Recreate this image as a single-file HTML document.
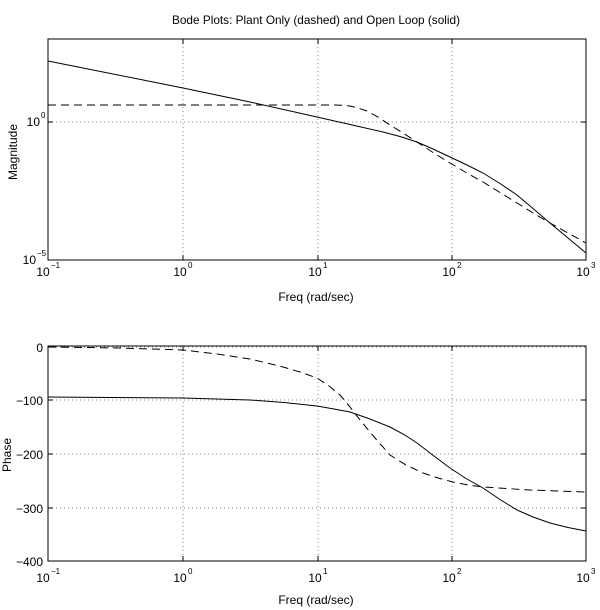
<!DOCTYPE html>
<html><head><meta charset="utf-8"><style>body{margin:0;background:#fff}svg{display:block}</style></head>
<body>
<svg width="600" height="610" xmlns="http://www.w3.org/2000/svg" font-family="Liberation Sans, sans-serif" font-size="12">
<rect width="600" height="610" fill="#fff"/>
<text x="316" y="24" text-anchor="middle" textLength="288" lengthAdjust="spacingAndGlyphs">Bode Plots: Plant Only (dashed) and Open Loop (solid)</text>
<!-- top axes -->
<g stroke="#888" stroke-dasharray="1,3" stroke-width="1">
<line x1="183" y1="39" x2="183" y2="260"/><line x1="318" y1="39" x2="318" y2="260"/><line x1="452" y1="39" x2="452" y2="260"/>
<line x1="48" y1="122" x2="586" y2="122"/>
</g>
<g stroke="#000" stroke-width="1">
<line x1="183" y1="260" x2="183" y2="255"/><line x1="318" y1="260" x2="318" y2="255"/><line x1="452" y1="260" x2="452" y2="255"/>
<line x1="183" y1="39" x2="183" y2="44"/><line x1="318" y1="39" x2="318" y2="44"/><line x1="452" y1="39" x2="452" y2="44"/>
<line x1="48" y1="122" x2="53" y2="122"/><line x1="586" y1="122" x2="581" y2="122"/>
</g>
<rect x="48" y="39" width="538" height="221" fill="none" stroke="#000"/>
<polyline fill="none" stroke="#000" points="48,61 183,88 250,102 317,117 350,124.5 383,132 400,136.5 417,142 433,149 450,157 467,165 483,173 500,183.5 517,195 533,208.5 550,223 568,238 586,253"/>
<polyline fill="none" stroke="#000" stroke-dasharray="8,5" points="48,105 250,105 333,105 342,105.3 350,106 358,108 367,111 378,117 390,125 403,133 417,142 433,152.5 450,163 466,172.5 483,182 500,192.5 517,203 533,213 550,223 568,233 586,243"/>
<g font-size="12">
<text x="40" y="126" text-anchor="end">10</text><text x="41" y="118" font-size="8">0</text>
<text x="36" y="264" text-anchor="end">10</text><text x="37" y="256" font-size="8">−5</text>
<text x="43" y="276" text-anchor="middle">10</text><text x="51" y="268" font-size="8">−1</text>
<text x="180" y="276" text-anchor="middle">10</text><text x="188" y="268" font-size="8">0</text>
<text x="315" y="276" text-anchor="middle">10</text><text x="323" y="268" font-size="8">1</text>
<text x="449" y="276" text-anchor="middle">10</text><text x="457" y="268" font-size="8">2</text>
<text x="583" y="276" text-anchor="middle">10</text><text x="591" y="268" font-size="8">3</text>
<text x="316" y="301" text-anchor="middle">Freq (rad/sec)</text>
<text transform="translate(17,152) rotate(-90)" text-anchor="middle">Magnitude</text>
</g>
<!-- bottom axes -->
<g stroke="#888" stroke-dasharray="1,3" stroke-width="1">
<line x1="183" y1="346" x2="183" y2="561"/><line x1="318" y1="346" x2="318" y2="561"/><line x1="452" y1="346" x2="452" y2="561"/>
<line x1="48" y1="347" x2="586" y2="347"/><line x1="48" y1="400" x2="586" y2="400"/><line x1="48" y1="454" x2="586" y2="454"/><line x1="48" y1="508" x2="586" y2="508"/>
</g>
<g stroke="#000" stroke-width="1">
<line x1="183" y1="561" x2="183" y2="556"/><line x1="318" y1="561" x2="318" y2="556"/><line x1="452" y1="561" x2="452" y2="556"/>
<line x1="183" y1="346" x2="183" y2="351"/><line x1="318" y1="346" x2="318" y2="351"/><line x1="452" y1="346" x2="452" y2="351"/>
<line x1="48" y1="400" x2="53" y2="400"/><line x1="48" y1="454" x2="53" y2="454"/><line x1="48" y1="508" x2="53" y2="508"/>
<line x1="586" y1="400" x2="581" y2="400"/><line x1="586" y1="454" x2="581" y2="454"/><line x1="586" y1="508" x2="581" y2="508"/>
</g>
<rect x="48" y="346" width="538" height="215" fill="none" stroke="#000"/>
<polyline fill="none" stroke="#000" points="48,397 183,398 250,400 284,402.5 317,406 334,409 350,412 370,419 390,427 404,434.5 417,443 434,456 450,468 466,478.5 483,488 500,499.5 517,510 533,517 550,523 568,527.5 586,531"/>
<polyline fill="none" stroke="#000" stroke-dasharray="8,5" points="48,347 120,348 183,350 217,354 250,359 267,363 283,367 300,372 317,378 329,386 340,395 350,407 360,420 375,438 390,455 406,465 423,473 438,478 453,482 468,485 483,487 530,490 586,492"/>
<g font-size="12">
<text x="43" y="352" text-anchor="end">0</text>
<text x="43" y="405" text-anchor="end">−100</text>
<text x="43" y="459" text-anchor="end">−200</text>
<text x="43" y="513" text-anchor="end">−300</text>
<text x="43" y="566" text-anchor="end">−400</text>
<text x="43" y="582" text-anchor="middle">10</text><text x="51" y="574" font-size="8">−1</text>
<text x="180" y="582" text-anchor="middle">10</text><text x="188" y="574" font-size="8">0</text>
<text x="315" y="582" text-anchor="middle">10</text><text x="323" y="574" font-size="8">1</text>
<text x="449" y="582" text-anchor="middle">10</text><text x="457" y="574" font-size="8">2</text>
<text x="583" y="582" text-anchor="middle">10</text><text x="591" y="574" font-size="8">3</text>
<text x="316" y="604" text-anchor="middle">Freq (rad/sec)</text>
<text transform="translate(11,455) rotate(-90)" text-anchor="middle">Phase</text>
</g>
</svg>
</body></html>
